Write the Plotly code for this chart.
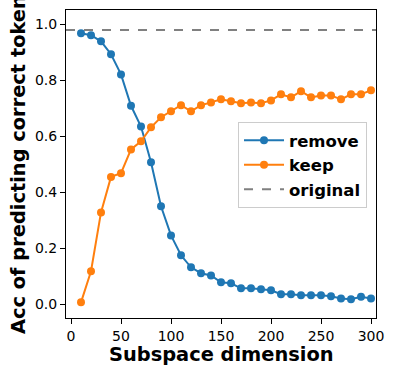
import plotly.graph_objects as go

dims = list(range(10, 310, 10))
remove = [0.967, 0.960, 0.938, 0.892, 0.820, 0.708, 0.634, 0.506, 0.349, 0.245,
          0.174, 0.131, 0.110, 0.102, 0.0775, 0.074, 0.056, 0.056, 0.0525, 0.049,
          0.035, 0.035, 0.031, 0.031, 0.031, 0.0275, 0.020, 0.017, 0.026, 0.020]
keep = [0.006, 0.117, 0.327, 0.454, 0.467, 0.552, 0.581, 0.631, 0.667, 0.688,
        0.710, 0.688, 0.710, 0.720, 0.731, 0.724, 0.717, 0.720, 0.717, 0.727,
        0.749, 0.738, 0.760, 0.738, 0.745, 0.745, 0.731, 0.749, 0.749, 0.763]
original = 0.979
x_ticks = [0, 50, 100, 150, 200, 250, 300]
y_ticks = [0, 0.2, 0.4, 0.6, 0.8, 1.0]

blue = "#1f77b4"
orange = "#ff7f0e"

fig = go.Figure()
fig.add_trace(go.Scatter(x=dims, y=remove, mode="lines+markers", name="<b>remove</b>",
                         line=dict(color=blue, width=2), marker=dict(color=blue, size=8)))
fig.add_trace(go.Scatter(x=dims, y=keep, mode="lines+markers", name="<b>keep</b>",
                         line=dict(color=orange, width=2), marker=dict(color=orange, size=8)))
fig.add_trace(go.Scatter(x=[-5, 305], y=[original, original], mode="lines", name="<b>original</b>",
                         line=dict(color="gray", width=2, dash="dash")))

axis_common = dict(showgrid=False, zeroline=False, showline=True, linecolor="black",
                   linewidth=1, mirror=True, ticks="outside", ticklen=5, tickcolor="black",
                   automargin=False,
                   tickfont=dict(family="DejaVu Sans", size=14, color="black"))

fig.update_layout(
    width=394, height=376,
    margin=dict(l=66, r=18, t=10, b=58),
    plot_bgcolor="white", paper_bgcolor="white",
    font=dict(family="DejaVu Sans", color="black"),
    xaxis=dict(range=[-5, 305], tickvals=x_ticks, **axis_common),
    yaxis=dict(range=[-0.05, 1.05], tickvals=y_ticks, tickformat=".1f", **axis_common),
    legend=dict(x=0.971, y=0.636, xanchor="right", yanchor="top",
                bordercolor="#cccccc", borderwidth=1, bgcolor="rgba(255,255,255,0.8)",
                font=dict(size=16.5), itemwidth=40, tracegroupgap=0),
    showlegend=True,
    annotations=[
        dict(text="<b>Subspace dimension</b>", xref="paper", yref="paper", x=0.5, y=-0.12,
             xanchor="center", yanchor="middle", showarrow=False, font=dict(size=19.4)),
        dict(text="<b>Acc of predicting correct token</b>", xref="paper", yref="paper",
             x=-0.155, y=0.5, xanchor="center", yanchor="middle", textangle=-90,
             showarrow=False, font=dict(size=19.4)),
    ],
)

fig.write_html("out.html", config={"displayModeBar": False},
               post_script="document.body.style.margin='0px';")
